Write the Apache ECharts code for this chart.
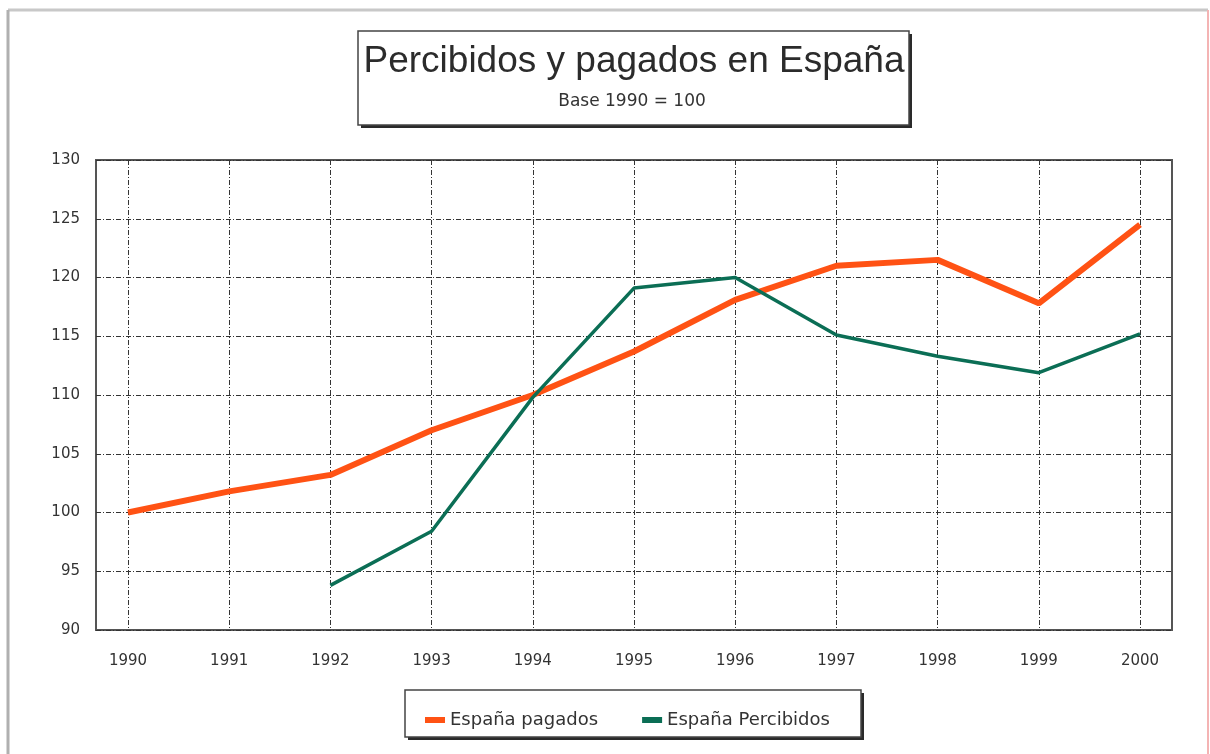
<!DOCTYPE html>
<html>
<head>
<meta charset="utf-8">
<script src="https://cdn.jsdelivr.net/npm/echarts@6/dist/echarts.min.js"></script>
<style>
  html, body { margin: 0; padding: 0; background: #fff; }
  #main { width: 1210px; height: 754px; }
</style>
</head>
<body>
<div id="main"></div>
<script>
  // años del eje X
  var years = [1990, 1991, 1992, 1993, 1994, 1995, 1996, 1997, 1998, 1999, 2000];
  // base 1990 = 100
  var pagados = [100, 101.8, 103.2, 107.0, 110.0, 113.7, 118.1, 121.0, 121.5, 117.8, 124.5];
  var percibidos = [null, null, 93.8, 98.4, 109.8, 119.1, 120.0, 115.1, 113.3, 111.9, 115.2];
  var yTicks = [90, 95, 100, 105, 110, 115, 120, 125, 130];

  var chart = echarts.init(document.getElementById('main'));

  function pairs(vals) {
    var out = [];
    for (var i = 0; i < years.length; i++) {
      if (vals[i] !== null) out.push([years[i], vals[i]]);
    }
    return out;
  }

  var titleFont = 'Liberation Sans, Arial, sans-serif';
  var font = 'DejaVu Sans, sans-serif';
  var gridLine = { show: true, lineStyle: { color: '#333', width: 1, type: [5, 2, 1, 2] } };

  function boxWithShadow(x, y, w, h) {
    return [
      { type: 'rect', shape: { x: x + 3, y: y + 3, width: w, height: h }, style: { fill: '#2a2a2a' }, z: -2 },
      { type: 'rect', shape: { x: x, y: y, width: w, height: h }, style: { fill: '#fff', stroke: '#444', lineWidth: 1.5 }, z: -1 }
    ];
  }

  var option = {
    backgroundColor: '#fff',
    animation: false,
    textStyle: { fontFamily: font },
    legend: {
      left: 420,
      top: 706,
      itemGap: 44,
      itemWidth: 20,
      itemHeight: 6,
      icon: 'rect',
      textStyle: { fontSize: 18, color: '#333', fontFamily: font },
      data: ['España pagados', 'España Percibidos']
    },
    grid: { left: 96, top: 160, width: 1076, height: 470, show: true, borderColor: '#555', borderWidth: 2 },
    xAxis: {
      type: 'value',
      min: 1989.684,
      max: 2000.316,
      axisLine: { show: false },
      axisTick: { show: true, customValues: years, length: 0 },
      axisLabel: {
        customValues: years, fontSize: 15, color: '#333', margin: 24,
        formatter: function (v) { return String(v); }
      },
      splitLine: gridLine
    },
    yAxis: {
      type: 'value',
      min: 90,
      max: 130,
      interval: 5,
      axisLine: { show: false },
      axisTick: { show: false },
      axisLabel: { fontSize: 15, color: '#333', margin: 16 },
      splitLine: gridLine
    },
    graphic: [
      // marco exterior
      { type: 'line', shape: { x1: 8, y1: 10, x2: 1208, y2: 10 }, style: { stroke: '#c8c8c8', lineWidth: 3 }, z: 0 },
      { type: 'line', shape: { x1: 8, y1: 10, x2: 8, y2: 754 }, style: { stroke: '#b0b0b0', lineWidth: 3 }, z: 0 },
      { type: 'line', shape: { x1: 1208, y1: 10, x2: 1208, y2: 754 }, style: { stroke: '#f4b4b4', lineWidth: 2 }, z: 0 }
    ]
      .concat(boxWithShadow(358, 31, 551, 94))
      .concat(boxWithShadow(405, 690, 456, 47))
      .concat([
        { type: 'text', x: 634, y: 62, z: 5,
          style: { text: 'Percibidos y pagados en España', font: '37px ' + titleFont, fill: '#2b2b2b', align: 'center', verticalAlign: 'middle' } },
        { type: 'text', x: 632, y: 102, z: 5,
          style: { text: 'Base 1990 = 100', font: '17px ' + font, fill: '#333', align: 'center', verticalAlign: 'middle' } }
      ]),
    series: [
      {
        name: 'España pagados',
        type: 'line',
        data: pairs(pagados),
        symbol: 'none',
        color: '#ff5214',
        lineStyle: { width: 6, color: '#ff5214' },
        z: 3
      },
      {
        name: 'España Percibidos',
        type: 'line',
        data: pairs(percibidos),
        symbol: 'none',
        color: '#0b6e55',
        lineStyle: { width: 3.5, color: '#0b6e55' },
        z: 4
      }
    ]
  };

  chart.setOption(option);
</script>
</body>
</html>
